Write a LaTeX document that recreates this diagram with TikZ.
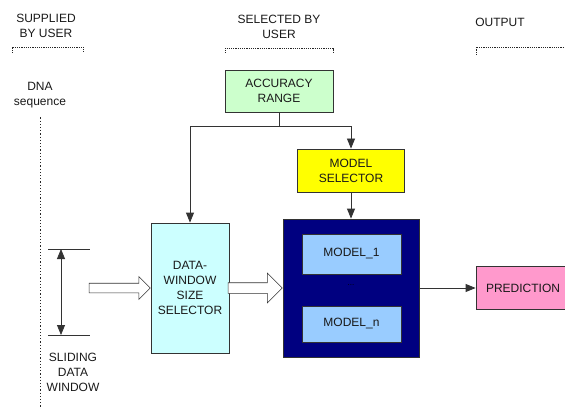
\documentclass[tikz,border=0pt]{standalone}
\usepackage{fontspec}
\setmainfont{Liberation Sans}
\usetikzlibrary{shapes.arrows, arrows.meta}
\definecolor{accgreen}{HTML}{CCFFCC}
\definecolor{dwscyan}{HTML}{CCFFFF}
\definecolor{selyellow}{HTML}{FFFF00}
\definecolor{boxnavy}{HTML}{000080}
\definecolor{modelblue}{HTML}{99CCFF}
\definecolor{predpink}{HTML}{FF99CC}

\begin{document}
\begin{tikzpicture}[x=1pt, y=-1pt, font=\fontsize{12}{15}\selectfont]
	\tikzstyle{lbl} = [align=center, text=black!90]
	\tikzstyle{box} = [draw=black!80, line width=0.8pt, align=center, inner sep=0pt, text=black!90]
	\tikzstyle{wire} = [draw=black!80, line width=0.8pt]
	\tikzstyle{flow} = [wire, -{Triangle[length=10pt, width=8pt]}]
	\tikzstyle{bracket} = [black!85, line width=0.8pt, dash pattern=on 1.2pt off 1pt]
	\tikzstyle{vline} = [black!85, line width=0.9pt, dash pattern=on 1.2pt off 2pt]
	\tikzstyle{hollow} = [single arrow, draw=black!80, line width=0.6pt, fill=white, inner xsep=0pt, text height=0pt, text depth=0pt, anchor=tip]

	\useasboundingbox (0,0) rectangle (565,409);

	% column headings
	\node[lbl] (supplied) at (46,26) {SUPPLIED\\BY USER};
	\node[lbl] (selected) at (279,27) {SELECTED BY\\USER};
	\node[lbl] (output) at (500,22) {OUTPUT};
	\draw[bracket] (12,53) -- (12,47) -- (83,47) -- (83,52);
	\draw[bracket] (225,53) -- (225,48) -- (333,48) -- (333,53);
	\draw[bracket] (476,55) -- (476,47) -- (566,47);

	% input sequence
	\node[lbl] (dna) at (40,95) {DNA\\sequence};
	\coordinate (dnaend) at (40,409);
	\draw[vline, shorten <=6pt] (dna) -- (dnaend);

	\coordinate (wtop) at (61,249);
	\coordinate (wbot) at (61,335);
	\draw[wire] (wtop) ++(-13,0) -- ++(42,0);
	\draw[wire] (wbot) ++(-13,0) -- ++(42,0);
	\draw[wire, {Triangle[length=10pt, width=8pt]}-{Triangle[length=10pt, width=8pt]}] (wtop) -- (wbot);
	\node[lbl] (sliding) at (73,372) {SLIDING\\DATA\\WINDOW};

	% boxes
	\node[box, fill=accgreen, minimum width=108pt, minimum height=42pt] (acc) at (279,91) {ACCURACY\\RANGE};
	\node[box, fill=dwscyan, minimum width=78pt, minimum height=130pt] (dws) at (190,288) {DATA-\\WINDOW\\SIZE\\SELECTOR};
	\node[box, fill=selyellow, minimum width=107pt, minimum height=43pt] (msel) at (351,170.5) {MODEL\\SELECTOR};
	\node[box, fill=boxnavy, minimum width=136pt, minimum height=138pt] (models) at (351,288) {};
	\foreach \name/\y/\h/\txt in {model1/254/40/MODEL\_1, modeln/324/36/MODEL\_n}
		\node[box, fill=modelblue, minimum width=99pt, minimum height=\h pt] (\name) at (351.5,\y) {\txt};
	\node[text=black, font=\footnotesize] (dots) at (351,285) {...};
	\node[box, fill=predpink, minimum width=94pt, minimum height=43pt] (pred) at (523,288) {PREDICTION};

	% connectors
	\coordinate (split) at (279,126);
	\draw[wire] (acc) -- (split);
	\draw[flow] (split) -| (dws);
	\draw[flow] (split) -| (msel);
	\draw[flow] (msel) -- (models);
	\draw[flow] (models) -- (pred);

	\node[hollow, minimum height=61pt, inner ysep=4.5pt, single arrow head extend=6.5pt] (feed) at (dws.west) {};
	\node[hollow, minimum height=54pt, inner ysep=5pt, single arrow head extend=9.5pt] (pass) at (models.west) {};
\end{tikzpicture}
\end{document}
